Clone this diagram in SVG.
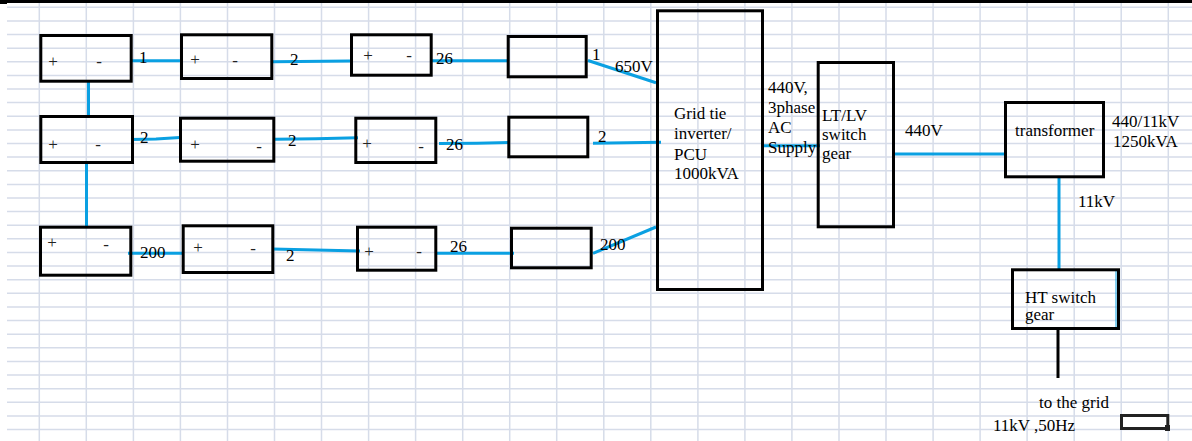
<svg xmlns="http://www.w3.org/2000/svg" width="1192" height="441" viewBox="0 0 1192 441">
<style>
.grid{stroke:#d6dce9;stroke-width:1.5;fill:none}
.box{fill:none;stroke:#000;stroke-width:3}
.wire{fill:none;stroke:#0aa0e2;stroke-width:3}
text{font-family:"Liberation Serif","Times New Roman",serif;font-size:17px;fill:#000}
.pm{font-size:17px;text-anchor:middle;fill:#222}
</style>
<rect x="0" y="0" width="1192" height="441" fill="#fff"/>
<g id="grid">
<path class="grid" d="M7 7.3H1192M7 20.9H1192M7 34.5H1192M7 48.2H1192M7 61.8H1192M7 75.4H1192M7 89H1192M7 102.6H1192M7 116.3H1192M7 129.9H1192M7 143.5H1192M7 157.1H1192M7 170.7H1192M7 184.4H1192M7 198H1192M7 211.6H1192M7 225.2H1192M7 238.8H1192M7 252.5H1192M7 266.1H1192M7 279.7H1192M7 293.3H1192M7 306.9H1192M7 320.6H1192M7 334.2H1192M7 347.8H1192M7 361.4H1192M7 375H1192M7 388.7H1192M7 402.3H1192M7 415.9H1192M7 429.5H1192"/>
<path class="grid" d="M39.3 3V441M86.3 3V441M133.4 3V441M180.4 3V441M227.5 3V441M274.5 3V441M321.5 3V441M368.6 3V441M415.6 3V441M462.7 3V441M509.7 3V441M556.7 3V441M603.8 3V441M650.8 3V441M697.9 3V441M744.9 3V441M791.9 3V441M839 3V441M886 3V441M933.1 3V441M980.1 3V441M1027.1 3V441M1074.2 3V441M1121.2 3V441M1168.3 3V441"/>
</g>
<rect x="0" y="0" width="1192" height="3" fill="#000"/>
<rect x="0" y="0" width="7" height="4" fill="#000"/>
<g id="connectors">
<path class="wire" d="M88.5 82V116"/>
<path class="wire" d="M86.5 163V226"/>
<path class="wire" d="M132 60.7H181"/>
<path class="wire" d="M273 61.7L350 61"/>
<path class="wire" d="M432 60.7H508"/>
<path class="wire" d="M588 60.5L656 82.7"/>
<path class="wire" d="M131 139.5L156 139L180 137.5"/>
<path class="wire" d="M275 139.3L316 138.7L358 137.7"/>
<path class="wire" d="M439 143.5L477 143.3L510 142.5"/>
<path class="wire" d="M593 143.3L627 142.8L661 142.3"/>
<path class="wire" d="M128 253.3H184"/>
<path class="wire" d="M272 249L360 251"/>
<path class="wire" d="M437 253.3H514"/>
<path class="wire" d="M593 253.3L656 227"/>
<path class="wire" d="M763 145.7H820"/>
<path class="wire" d="M895 154H1005"/>
<path class="wire" d="M1059 178V269"/>
<path d="M1116 270V329" stroke="#0aa0e2" stroke-width="1" fill="none"/>
<path d="M1058 330V378" stroke="#000" stroke-width="3" fill="none"/>
</g>
<g id="A1"><rect class="box" x="40.8" y="35.5" width="90.4" height="45.7"/><text class="pm" x="53" y="67">+</text><text class="pm" x="99" y="67">-</text></g>
<g id="B1"><rect class="box" x="181.5" y="34.8" width="90.3" height="43.7"/><text class="pm" x="195" y="65">+</text><text class="pm" x="235" y="66">-</text></g>
<g id="C1"><rect class="box" x="351.5" y="34.8" width="79.7" height="40.4"/><text class="pm" x="368" y="61">+</text><text class="pm" x="409" y="61">-</text></g>
<g id="D1"><rect class="box" x="508.2" y="36.5" width="78" height="40.3"/></g>
<g id="A2"><rect class="box" x="40.8" y="116.5" width="91.7" height="46"/><text class="pm" x="53" y="150">+</text><text class="pm" x="98" y="150">-</text></g>
<g id="B2"><rect class="box" x="180.5" y="118.2" width="93.3" height="43"/><text class="pm" x="195" y="150">+</text><text class="pm" x="259" y="152">-</text></g>
<g id="C2"><rect class="box" x="355.8" y="118.2" width="80" height="44.3"/><text class="pm" x="367" y="149">+</text><text class="pm" x="421" y="152">-</text></g>
<g id="D2"><rect class="box" x="508.8" y="117.2" width="79" height="39.6"/></g>
<g id="A3"><rect class="box" x="40.5" y="227.2" width="90.3" height="48"/><text class="pm" x="52" y="248">+</text><text class="pm" x="106" y="250">-</text></g>
<g id="B3"><rect class="box" x="183.2" y="225.8" width="89.6" height="46.7"/><text class="pm" x="198" y="253">+</text><text class="pm" x="253" y="254">-</text></g>
<g id="C3"><rect class="box" x="357.5" y="227.2" width="78.3" height="43"/><text class="pm" x="369" y="257">+</text><text class="pm" x="419" y="257">-</text></g>
<g id="D3"><rect class="box" x="511.5" y="228.2" width="79.7" height="39.6"/></g>
<g id="labels">
<text x="139" y="63">1</text>
<text x="290" y="65">2</text>
<text x="436" y="64">26</text>
<text x="592" y="60">1</text>
<text x="615" y="72">650V</text>
<text x="140" y="143">2</text>
<text x="288" y="146">2</text>
<text x="446" y="150">26</text>
<text x="598" y="142">2</text>
<text x="140" y="258">200</text>
<text x="286" y="261">2</text>
<text x="450" y="252">26</text>
<text x="600" y="250">200</text>
</g>
<g id="inverter"><rect class="box" x="657.5" y="10.8" width="105" height="278.7"/>
<text x="674" y="119">Grid tie</text><text x="674" y="139">inverter/</text><text x="674" y="160">PCU</text><text x="674" y="179">1000kVA</text></g>
<g id="ac-label"><text x="768" y="93">440V,</text><text x="768" y="113">3phase</text><text x="768" y="133">AC</text><text x="768" y="153">Supply</text></g>
<g id="ltlv"><rect class="box" x="818.2" y="62.5" width="75.3" height="164.3"/>
<text x="822" y="121">LT/LV</text><text x="822" y="140">switch</text><text x="822" y="159">gear</text></g>
<text x="905" y="136">440V</text>
<g id="transformer"><rect class="box" x="1005.5" y="102.5" width="98" height="74.3"/>
<text x="1015" y="136">transformer</text></g>
<text x="1112" y="127">440/11kV</text><text x="1113" y="147">1250kVA</text>
<text x="1078" y="207">11kV</text>
<g id="ht"><rect class="box" x="1012.5" y="269.8" width="106" height="58.7"/>
<text x="1025" y="303">HT switch</text><text x="1025" y="320">gear</text></g>
<text x="1039" y="408">to the grid</text>
<text x="993" y="431">11kV ,50Hz</text>
<g id="cell"><rect x="1121.5" y="415.5" width="46.3" height="13" fill="none" stroke="#222" stroke-width="3"/><rect x="1165" y="425" width="5" height="6" fill="#222"/></g>
</svg>
